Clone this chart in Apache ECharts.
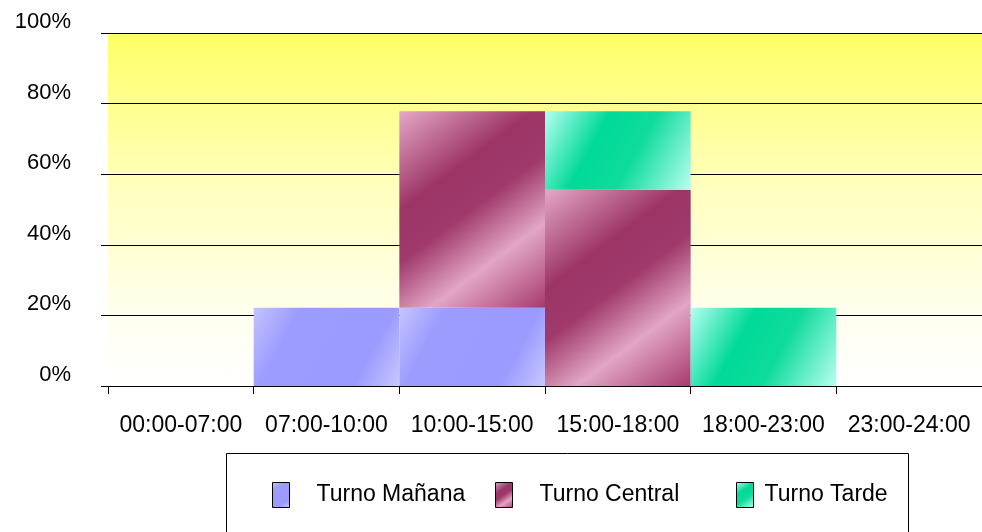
<!DOCTYPE html>
<html>
<head>
<meta charset="utf-8">
<style>
  html, body { margin: 0; padding: 0; background: #ffffff; }
  #chart { width: 982px; height: 532px; }
</style>
<script src="https://cdn.jsdelivr.net/npm/echarts@6/dist/echarts.min.js"></script>
</head>
<body>
<div id="chart"></div>
<script>
// Time slots on the x axis
const categories = ['00:00-07:00', '07:00-10:00', '10:00-15:00', '15:00-18:00', '18:00-23:00', '23:00-24:00'];
// Share of each shift per slot, in percent
const turnoManana = [0, 22.2, 22.2, 0, 0, 0];
const turnoCentral = [0, 0, 55.6, 55.6, 0, 0];
const turnoTarde = [0, 0, 0, 22.2, 22.2, 0];
// Value axis ticks
const yTicks = [0, 20, 40, 60, 80, 100];

const seriesNames = ['Turno Mañana', 'Turno Central', 'Turno Tarde'];

const FONT = '"Liberation Sans", Arial, sans-serif';

function diag(stops) {
  return new echarts.graphic.LinearGradient(0, 0, 1, 1, stops.map(s => ({ offset: s[0], color: s[1] })));
}

const fillManana = diag([[0, '#c4c4ff'], [0.25, '#9c9cff'], [0.75, '#9a9aff'], [1, '#c8c8ff']]);
const fillCentral = diag([[0, '#e4a8c6'], [0.33, '#9c3466'], [0.5, '#a03a6c'], [0.72, '#e2a6c4'], [1, '#a63a6e']]);
const fillTarde = diag([[0, '#b4fff0'], [0.35, '#00da98'], [0.6, '#0edb9c'], [1, '#b8fff0']]);

const chart = echarts.init(document.getElementById('chart'), null, { renderer: 'canvas' });

// One legend block per shift so each entry can sit at its own spot in the box
function legendAt(name, left, textGap) {
  return {
    data: [name],
    left: left,
    top: 482,
    padding: 0,
    itemWidth: 17,
    itemHeight: 25,
    icon: 'rect',
    selectedMode: false,
    itemStyle: { borderColor: '#000000', borderWidth: 1 },
    textStyle: { fontFamily: FONT, fontSize: 23, color: '#000000', padding: [0, 0, 0, textGap] }
  };
}

chart.setOption({
  animation: false,
  backgroundColor: '#ffffff',
  graphic: [{
    type: 'rect',
    shape: { x: 226.5, y: 453.5, width: 682, height: 100 },
    style: { fill: '#ffffff', stroke: '#000000', lineWidth: 1 },
    z: -1
  }],
  legend: [
    legendAt(seriesNames[0], 272, 22),
    legendAt(seriesNames[1], 495, 22),
    legendAt(seriesNames[2], 736, 6)
  ],
  grid: {
    left: 108, top: 33, width: 876, height: 353,
    show: true,
    borderWidth: 0,
    backgroundColor: new echarts.graphic.LinearGradient(0, 0, 0, 1, [
      { offset: 0, color: '#ffff66' },
      { offset: 0.45, color: '#ffffc0' },
      { offset: 0.85, color: '#fffff4' },
      { offset: 1, color: '#ffffff' }
    ])
  },
  xAxis: {
    type: 'category',
    data: categories,
    boundaryGap: true,
    axisLine: { show: true, lineStyle: { color: '#000000', width: 1 } },
    axisTick: { show: true, length: 8, lineStyle: { color: '#000000' } },
    axisLabel: { fontFamily: FONT, fontSize: 23, color: '#000000', margin: 28, interval: 0 },
    splitLine: { show: false }
  },
  yAxis: {
    type: 'value',
    min: yTicks[0],
    max: yTicks[yTicks.length - 1],
    interval: 20,
    axisLine: { show: false },
    axisTick: { show: true, length: 7, lineStyle: { color: '#000000' } },
    axisLabel: {
      fontFamily: FONT, fontSize: 22, color: '#000000', margin: 37,
      verticalAlign: 'bottom',
      formatter: v => v + '%'
    },
    splitLine: { show: true, lineStyle: { color: '#000000', width: 1 } }
  },
  series: [
    { name: seriesNames[0], type: 'bar', stack: 'turnos', data: turnoManana, barCategoryGap: '0%', itemStyle: { color: fillManana } },
    { name: seriesNames[1], type: 'bar', stack: 'turnos', data: turnoCentral, barCategoryGap: '0%', itemStyle: { color: fillCentral } },
    { name: seriesNames[2], type: 'bar', stack: 'turnos', data: turnoTarde, barCategoryGap: '0%', itemStyle: { color: fillTarde } }
  ]
});
</script>
</body>
</html>
